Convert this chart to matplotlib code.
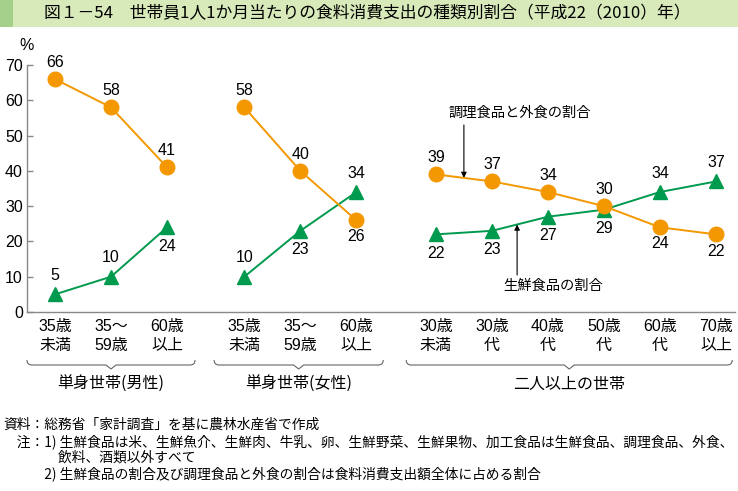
import numpy as np
import matplotlib
matplotlib.use("Agg")
import matplotlib.pyplot as plt
from matplotlib.patches import Rectangle
from matplotlib.path import Path
from matplotlib.patches import PathPatch
import matplotlib.transforms as mtransforms

plt.rcParams['font.family'] = ['Liberation Sans', 'Noto Sans CJK JP', 'DejaVu Sans']

# ---- data ----
groups = ["単身世帯(男性)", "単身世帯(女性)", "二人以上の世帯"]
cats_male = ["35歳\n未満", "35～\n59歳", "60歳\n以上"]
cats_female = ["35歳\n未満", "35～\n59歳", "60歳\n以上"]
cats_multi = ["30歳\n未満", "30歳\n代", "40歳\n代", "50歳\n代", "60歳\n代", "70歳\n以上"]

cooked_male = [66, 58, 41]      # 調理食品と外食の割合
fresh_male = [5, 10, 24]        # 生鮮食品の割合
cooked_female = [58, 40, 26]
fresh_female = [10, 23, 34]
cooked_multi = [39, 37, 34, 30, 24, 22]
fresh_multi = [22, 23, 27, 29, 34, 37]

# label placement: +1 above, -1 below
cooked_pos = [[1, 1, 1], [1, 1, -1], [1, 1, 1, 1, -1, -1]]
fresh_pos = [[1, 1, -1], [1, -1, 1], [-1, -1, -1, -1, 1, 1]]

yticks = [0, 10, 20, 30, 40, 50, 60, 70]

title = "図１－54　世帯員1人1か月当たりの食料消費支出の種類別割合（平成22（2010）年）"
notes = [
    "資料：総務省「家計調査」を基に農林水産省で作成",
    "　注：1) 生鮮食品は米、生鮮魚介、生鮮肉、牛乳、卵、生鮮野菜、生鮮果物、加工食品は生鮮食品、調理食品、外食、",
    "　　　　飲料、酒類以外すべて",
    "　　　2) 生鮮食品の割合及び調理食品と外食の割合は食料消費支出額全体に占める割合",
]

ORANGE = "#f39800"
GREEN = "#009a4e"
GRAY = "#888888"

W, H = 738, 491
fig = plt.figure(figsize=(W / 100, H / 100), dpi=100)

def fx(px):
    return px / W

def fy(py):
    return 1 - py / H

# title bar
fig.patches.append(Rectangle((0, fy(27)), 1, 27 / H, transform=fig.transFigure,
                             facecolor="#d8eab9", edgecolor="none", zorder=0))
fig.patches.append(Rectangle((0, fy(27)), fx(13), 27 / H, transform=fig.transFigure,
                             facecolor="#a5d08a", edgecolor="none", zorder=1))
fig.text(fx(44), fy(14), title, fontsize=12.1, va="center", ha="left",
         family=['Noto Sans CJK JP', 'DejaVu Sans'])

ax = fig.add_axes([fx(27), fy(312), fx(735) - fx(27), (312 - 65) / H])

offsets = [0.0, 3.38, 6.8]
cat_lists = [cats_male, cats_female, cats_multi]
cooked_lists = [cooked_male, cooked_female, cooked_multi]
fresh_lists = [fresh_male, fresh_female, fresh_multi]

all_x, all_labels = [], []
group_x = []
for g, (cats, cooked, fresh) in enumerate(zip(cat_lists, cooked_lists, fresh_lists)):
    x = np.arange(len(cats)) + offsets[g]
    group_x.append(x)
    all_x.extend(x)
    all_labels.extend(cats)
    ax.plot(x, fresh, color=GREEN, lw=1.4, marker="^", ms=10.5, zorder=3, clip_on=False)
    ax.plot(x, cooked, color=ORANGE, lw=1.4, marker="o", ms=10.5, zorder=4, clip_on=False)
    for xi, v, p in zip(x, cooked, cooked_pos[g]):
        ax.annotate(str(v), (xi, v), xytext=(0, 12 * p), textcoords="offset points",
                    ha="center", va="center", fontsize=11.5)
    for xi, v, p in zip(x, fresh, fresh_pos[g]):
        ax.annotate(str(v), (xi, v), xytext=(0, 13.5 * p), textcoords="offset points",
                    ha="center", va="center", fontsize=11.5)

ax.set_xlim(-0.5, 12.14)
ax.set_ylim(0, 70)
ax.set_yticks(yticks)
ax.set_yticklabels([str(t) for t in yticks], fontsize=11.5)
ax.set_xticks(all_x)
ax.set_xticklabels(all_labels, fontsize=11.5, linespacing=1.3,
                   family=['Liberation Sans', 'Noto Sans CJK JP'])
ax.tick_params(axis="x", length=0, pad=5)
ax.tick_params(axis="y", direction="in", length=4, color=GRAY, width=1, pad=3)
for s in ["top", "right"]:
    ax.spines[s].set_visible(False)
for s in ["left", "bottom"]:
    ax.spines[s].set_color(GRAY)
    ax.spines[s].set_linewidth(1)

ax.annotate("%", (-0.5, 70), xytext=(0, 14), textcoords="offset points",
            ha="center", va="center", fontsize=11.5)

# annotations in panel 3
x3 = group_x[2]
xa = (x3[0] + x3[1]) / 2
ax.annotate("", xy=(xa, (cooked_multi[0] + cooked_multi[1]) / 2), xytext=(xa, 53),
            arrowprops=dict(arrowstyle="-|>", color="black", lw=0.8, mutation_scale=8,
                            shrinkA=0, shrinkB=0))
ax.text(x3[0] + 0.22, 56.5, "調理食品と外食の割合", ha="left", va="center", fontsize=10.3,
        family=['Noto Sans CJK JP'])
xb = x3[1] + 0.45
yb = fresh_multi[1] + 0.45 * (fresh_multi[2] - fresh_multi[1])
ax.annotate("", xy=(xb, yb), xytext=(xb, 10.5),
            arrowprops=dict(arrowstyle="-|>", color="black", lw=0.8, mutation_scale=8,
                            shrinkA=0, shrinkB=0))
ax.text(x3[1] + 0.2, 7.3, "生鮮食品の割合", ha="left", va="center", fontsize=10.3,
        family=['Noto Sans CJK JP'])

# braces
trans = mtransforms.blended_transform_factory(ax.transData, fig.transFigure)
brace_ext = [(-0.5, 2.5), (2.84, 5.86), (6.27, 12.09)]
for (x0, x1), gname in zip(brace_ext, groups):
    xc = (x0 + x1) / 2
    ytop, ymid, ytip = fy(360), fy(365), fy(369)
    d = 0.09
    verts = [(x0, ytop), (x0, ymid), (x0 + d, ymid),
             (xc - d, ymid), (xc, ytip),
             (xc + d, ymid), (x1 - d, ymid),
             (x1, ymid), (x1, ytop)]
    codes = [Path.MOVETO, Path.CURVE3, Path.CURVE3,
             Path.LINETO, Path.LINETO,
             Path.LINETO, Path.LINETO,
             Path.CURVE3, Path.CURVE3]
    fig.patches.append(PathPatch(Path(verts, codes), transform=trans, facecolor="none",
                                 edgecolor="#666666", lw=0.8))
    fig.text(xc, fy(384), gname, transform=trans, ha="center", va="center", fontsize=11.5,
             family=['Noto Sans CJK JP'])

# notes
note_y = [425, 442, 458, 474]
for t, yy in zip(notes, note_y):
    fig.text(fx(3), fy(yy), t, ha="left", va="center", fontsize=9.9,
             family=['Noto Sans CJK JP'])

fig.savefig("out.png", dpi=100)
